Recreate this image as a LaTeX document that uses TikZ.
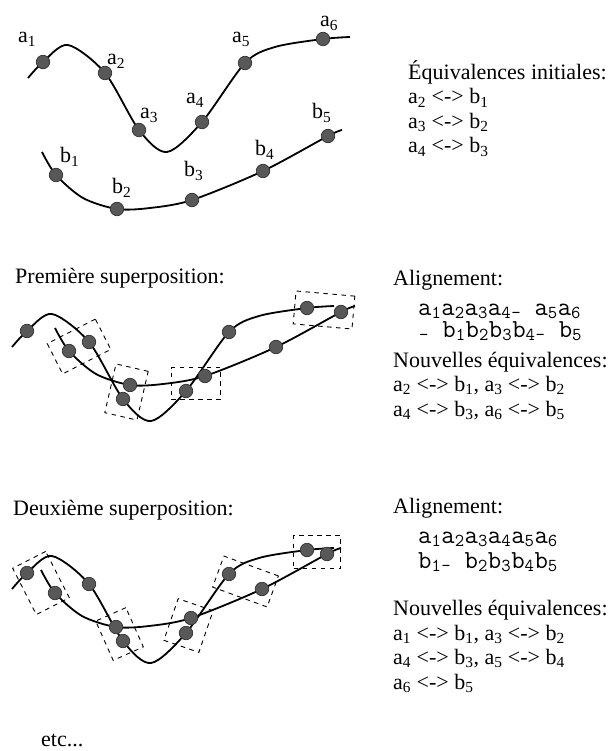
\documentclass[tikz,border=0pt]{standalone}
\usepackage{fontspec}
\setmainfont{Liberation Serif}
\usetikzlibrary{calc}
\definecolor{dotgray}{RGB}{88,88,88}
\newcommand{\elem}[2]{#1\textsubscript{#2}}

\tikzset{
  strandA/.pic={
    \draw[strand] plot[smooth] coordinates {(28,78) (43,62) (68,45) (105,73) (139,130) (167,152) (202,122) (245,63) (275,47) (323,39) (350,37)};
    \foreach \x/\y/\n in {43/62/1,105/73/2,139/130/3,202/122/4,245/63/5,323/39/6}
      \node[dot] (-a\n) at (\x,\y) {};
  },
  strandB/.pic={
    \draw[strand] plot[smooth] coordinates {(42,152) (56,175) (83,198) (117,209) (150,208) (192,200) (263,171) (328,136) (342,130)};
    \foreach \x/\y/\n in {56/175/1,117/209/2,192/200/3,263/171/4,328/136/5}
      \node[dot] (-b\n) at (\x,\y) {};
  }
}

\begin{document}
\begin{tikzpicture}[x=1pt,y=-1pt,
  strand/.style={line width=1.8pt},
  dot/.style={circle,fill=dotgray,draw=black!80,line width=0.7pt,inner sep=0pt,minimum size=13.5pt},
  pairbox/.style={draw,line width=0.9pt,dash pattern=on 4.5pt off 4.5pt,inner sep=0pt},
  lbl/.style={anchor=base west,inner sep=0pt,font=\fontsize{22}{24}\selectfont},
  txt/.style={anchor=base west,inner sep=0pt,align=left,font=\fontsize{22}{24.5}\selectfont},
  mono/.style={anchor=base west,inner sep=0pt,font=\fontsize{26}{28}\selectfont\ttfamily}
]
\useasboundingbox (0,0) rectangle (608,751);

\pic (t) at (0,0) {strandA};
\pic (t) at (0,0) {strandB};
\node[lbl] (la1) at (18,43) {\elem{a}{1}};
\node[lbl] (la2) at (107,65) {\elem{a}{2}};
\node[lbl] (la3) at (140,119) {\elem{a}{3}};
\node[lbl] (la4) at (186,104) {\elem{a}{4}};
\node[lbl] (la5) at (232,43) {\elem{a}{5}};
\node[lbl] (la6) at (320,27) {\elem{a}{6}};
\node[lbl] (lb1) at (60,163) {\elem{b}{1}};
\node[lbl] (lb2) at (112,194) {\elem{b}{2}};
\node[lbl] (lb3) at (184,177) {\elem{b}{3}};
\node[lbl] (lb4) at (255,156) {\elem{b}{4}};
\node[lbl] (lb5) at (312,119) {\elem{b}{5}};
% multi-line nodes sit on the baseline of their last line
\node[txt] (initeq) at (408,153) {Équivalences initiales:\\
  \elem{a}{2} <-> \elem{b}{1}\\\elem{a}{3} <-> \elem{b}{2}\\\elem{a}{4} <-> \elem{b}{3}};

\node[txt] (firsttitle) at (15,283) {Première superposition:};
\pic (m) at (-16,269) {strandA};
\pic (m) at (13,176) {strandB};
\node[pairbox,minimum width=54pt,minimum height=34pt,rotate=27] (mbox1) at ($(m-a2)!.5!(m-b1)$) {};
\node[pairbox,minimum width=33pt,minimum height=50pt,rotate=-13] (mbox2) at ($(m-a3)!.5!(m-b2)$) {};
\node[pairbox,minimum width=49pt,minimum height=32pt] (mbox3) at ($(m-a4)!.5!(m-b3)$) {};
\node[pairbox,minimum width=59pt,minimum height=33pt,rotate=-5] (mbox4) at ($(m-a6)!.5!(m-b5)$) {};
\node[txt] (firstalign) at (393,285) {Alignement:};
\node[mono] (firstseqa) at (418,315) {\elem{a}{1}\elem{a}{2}\elem{a}{3}\elem{a}{4}\textsubscript{-} \elem{a}{5}\elem{a}{6}};
\node[mono] (firstseqb) at (419,337) {\textsubscript{-} \elem{b}{1}\elem{b}{2}\elem{b}{3}\elem{b}{4}\textsubscript{-} \elem{b}{5}};
\node[txt] (firstnew) at (393,416) {Nouvelles équivalences:\\
  \elem{a}{2} <-> \elem{b}{1}, \elem{a}{3} <-> \elem{b}{2}\\
  \elem{a}{4} <-> \elem{b}{3}, \elem{a}{6} <-> \elem{b}{5}};

\node[txt] (secondtitle) at (13,515) {Deuxième superposition:};
\pic (s) at (-16,511) {strandA};
\pic (s) at (-1,418) {strandB};
\node[pairbox,minimum width=37pt,minimum height=52pt,rotate=27] (sbox1) at ($(s-a1)!.5!(s-b1)$) {};
\node[pairbox,minimum width=33pt,minimum height=43pt,rotate=24] (sbox2) at ($(s-a3)!.5!(s-b2)$) {};
\node[pairbox,minimum width=37pt,minimum height=44pt,rotate=-19] (sbox3) at ($(s-a4)!.5!(s-b3)$) {};
\node[pairbox,minimum width=58pt,minimum height=33pt,rotate=-20] (sbox4) at ($(s-a5)!.5!(s-b4)$) {};
\node[pairbox,minimum width=47pt,minimum height=33pt] (sbox5) at ($(s-a6)!.5!(s-b5)$) {};
\node[txt] (secondalign) at (393,513) {Alignement:};
\node[mono] (secondseqa) at (418,543) {\elem{a}{1}\elem{a}{2}\elem{a}{3}\elem{a}{4}\elem{a}{5}\elem{a}{6}};
\node[mono] (secondseqb) at (418,568) {\elem{b}{1}\textsubscript{-} \elem{b}{2}\elem{b}{3}\elem{b}{4}\elem{b}{5}};
\node[txt] (secondnew) at (393,689) {Nouvelles équivalences:\\
  \elem{a}{1} <-> \elem{b}{1}, \elem{a}{3} <-> \elem{b}{2}\\
  \elem{a}{4} <-> \elem{b}{3}, \elem{a}{5} <-> \elem{b}{4}\\
  \elem{a}{6} <-> \elem{b}{5}};

\node[txt] (etc) at (41,746) {etc...};
\end{tikzpicture}
\end{document}
